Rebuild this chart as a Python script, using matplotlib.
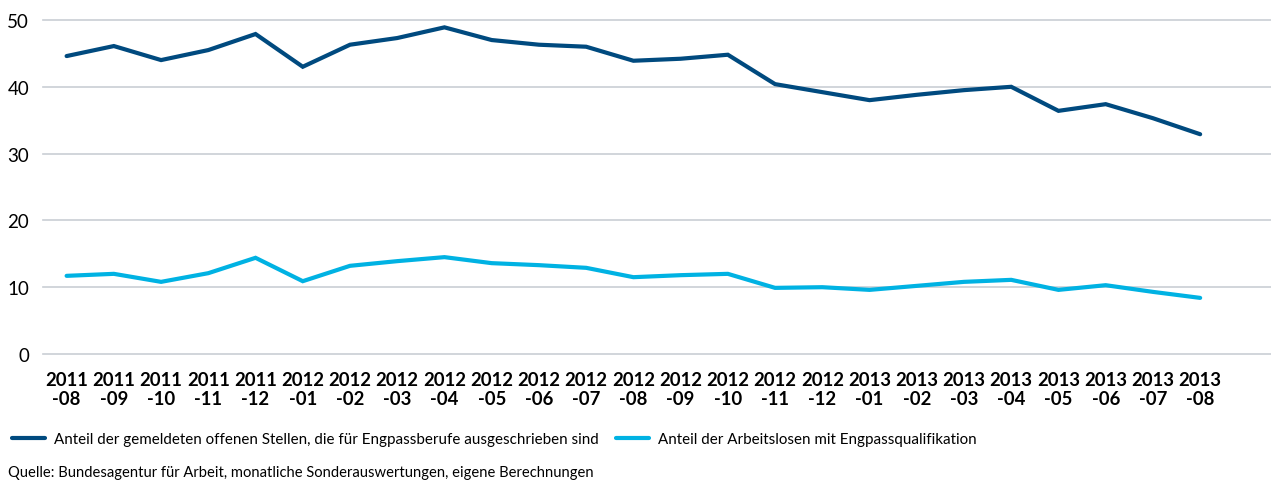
import matplotlib
matplotlib.use("Agg")
import matplotlib.pyplot as plt
import numpy as np

plt.rcParams["font.family"] = ["Lato", "DejaVu Sans"]

months = ["2011\n-08", "2011\n-09", "2011\n-10", "2011\n-11", "2011\n-12",
          "2012\n-01", "2012\n-02", "2012\n-03", "2012\n-04", "2012\n-05",
          "2012\n-06", "2012\n-07", "2012\n-08", "2012\n-09", "2012\n-10",
          "2012\n-11", "2012\n-12", "2013\n-01", "2013\n-02", "2013\n-03",
          "2013\n-04", "2013\n-05", "2013\n-06", "2013\n-07", "2013\n-08"]
stellen = [44.6, 46.1, 44.0, 45.5, 47.9, 43.0, 46.3, 47.3, 48.9, 47.0,
           46.3, 46.0, 43.9, 44.2, 44.8, 40.4, 39.2, 38.0, 38.8, 39.5,
           40.0, 36.4, 37.4, 35.3, 32.9]
arbeitslose = [11.7, 12.0, 10.8, 12.1, 14.4, 10.9, 13.2, 13.9, 14.5, 13.6,
               13.3, 12.9, 11.5, 11.8, 12.0, 9.9, 10.0, 9.6, 10.2, 10.8,
               11.1, 9.6, 10.3, 9.3, 8.4]
label_stellen = "Anteil der gemeldeten offenen Stellen, die für Engpassberufe ausgeschrieben sind"
label_arbeitslose = "Anteil der Arbeitslosen mit Engpassqualifikation"
source = "Quelle: Bundesagentur für Arbeit, monatliche Sonderauswertungen, eigene Berechnungen"

DARK = "#004a7f"
LIGHT = "#00b2e3"

fig = plt.figure(figsize=(12.71, 4.85), dpi=100)
ax = fig.add_axes([43 / 1271, 1 - 355 / 485, 1 - 43 / 1271, (355 - 21) / 485])

x = np.arange(len(months))
ax.plot(x, stellen, color=DARK, lw=3, solid_capstyle="round", solid_joinstyle="miter",
        label=label_stellen)
ax.plot(x, arbeitslose, color=LIGHT, lw=3, solid_capstyle="round", solid_joinstyle="miter",
        label=label_arbeitslose)

ax.set_xlim(-0.5, len(months) + 0.5)
ax.set_ylim(0, 50)
ax.set_yticks([0, 10, 20, 30, 40, 50])
ax.set_xticks(x)
ax.set_xticklabels(months, fontweight="bold", fontsize=13.3, linespacing=1.2)
ax.tick_params(axis="x", length=0, pad=12)
ax.tick_params(axis="y", length=0, pad=10, labelsize=13.5)
ax.grid(axis="y", color="#c9ced4", lw=1.2, clip_on=False)
ax.set_axisbelow(True)
for s in ax.spines.values():
    s.set_visible(False)

fig.legend(loc="center left", bbox_to_anchor=(12 / 1271, 1 - 440 / 485), ncol=2,
           frameon=False, fontsize=10.9, handlelength=2.2, handletextpad=0.6,
           columnspacing=1.1, borderaxespad=0, borderpad=0)
fig.text(8 / 1271, 1 - 473 / 485, source, fontsize=10.6, va="center", ha="left")

fig.savefig("out.png", dpi=100)
plt.close(fig)
